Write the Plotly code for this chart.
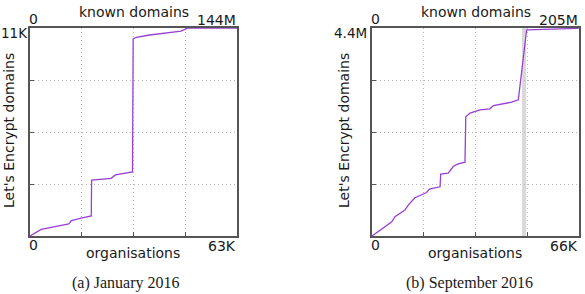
import plotly.graph_objects as go

# ---------------- data ----------------
# (a) January 2016: organisations (x) vs Let's Encrypt domains (y)
orgs_jan = [0, 3400, 11800, 12600, 15600, 18650, 18750, 24700, 26000, 30300,
            31200, 31400, 32400, 36400, 41000, 46000, 47900, 63000]
le_jan = [0, 350, 640, 810, 940, 1060, 2960, 3050, 3230, 3370,
          3390, 10420, 10510, 10630, 10720, 10830, 10990, 11000]

# (b) September 2016
orgs_sep = [0, 6300, 7300, 10500, 11600, 12700, 13700, 17400, 18300, 21700,
            21900, 24300, 25900, 27200, 29650, 29900, 31250, 34400, 37600,
            38700, 40800, 44500, 46650, 49300, 65300, 66000]
le_sep = [0, 0.30e6, 0.41e6, 0.55e6, 0.66e6, 0.73e6, 0.81e6, 0.92e6, 0.99e6,
          1.04e6, 1.31e6, 1.33e6, 1.47e6, 1.52e6, 1.56e6, 2.52e6, 2.60e6,
          2.67e6, 2.69e6, 2.76e6, 2.79e6, 2.83e6, 2.88e6, 4.36e6, 4.39e6, 4.40e6]

# highlighted band in (b), organisations range
band_sep = [47830, 49100]

# axis maxima and tick labels
x_max = [63000, 66000]
y_max = [11000, 4.4e6]
bottom_labels = [["0", "63K"], ["0", "66K"]]
top_labels = [["0", "144M"], ["0", "205M"]]
y_top_labels = ["11K", "4.4M"]
x_title = "organisations"
x2_title = "known domains"
y_title = "Let's Encrypt domains"
captions = ["(a) January 2016", "(b) September 2016"]

# ---------------- layout helpers ----------------
W, H = 585, 294
px_x = lambda p: p / W
px_y = lambda p: (H - p) / H

panels = [
    dict(x0=30, x1=237, ytitle_x=9, cap_x=126, ylab_x=28.5),
    dict(x0=372, x1=579, ytitle_x=344, cap_x=469, ylab_x=368),
]
PY0, PY1 = 28, 236  # top, bottom pixel

LINE = "#9a3fd6"
FRAME = "#555555"
GRID = "#b8b8b8"
TXT = "#1a1a1a"
FONT = dict(family="DejaVu Sans", size=14, color=TXT)
FONT_YL = dict(family="DejaVu Sans", size=13.5, color=TXT)

fig = go.Figure()
fig.add_trace(go.Scatter(x=orgs_jan, y=le_jan, mode="lines",
                         line=dict(color=LINE, width=1.3),
                         xaxis="x", yaxis="y", showlegend=False))
fig.add_trace(go.Scatter(x=orgs_sep, y=le_sep, mode="lines",
                         line=dict(color=LINE, width=1.3),
                         xaxis="x2", yaxis="y2", showlegend=False))

layout = dict(width=W, height=H, autosize=False,
              margin=dict(l=0, r=0, t=0, b=0),
              paper_bgcolor="white", plot_bgcolor="white",
              showlegend=False)

for i, p in enumerate(panels):
    xs = "" if i == 0 else str(i + 1)
    common = dict(
        showticklabels=False, ticks="inside", ticklen=4, tickcolor=FRAME,
        tickwidth=1.2,
        showgrid=True, gridcolor=GRID, griddash="1px,3px", gridwidth=1,
        showline=True, linecolor=FRAME, linewidth=1.6, mirror=True,
        zeroline=False, fixedrange=True)
    layout["xaxis" + xs] = dict(
        domain=[px_x(p["x0"]), px_x(p["x1"])],
        range=[0, x_max[i]], anchor="y" + xs,
        tickvals=[x_max[i] * k / 4 for k in (1, 2, 3)], **common)
    layout["yaxis" + xs] = dict(
        domain=[px_y(PY1), px_y(PY0)],
        range=[0, y_max[i]], anchor="x" + xs,
        tickvals=[y_max[i] * k / 4 for k in (1, 2, 3)], **common)

fig.update_layout(**layout)

# grey band in (b)
fig.add_shape(type="rect", xref="x2", yref="y2 domain",
              x0=band_sep[0], x1=band_sep[1], y0=0, y1=1,
              fillcolor="#d9d9d9", line=dict(width=0), layer="below")

def ann(text, x, y, xanchor="center", angle=0, font=FONT):
    fig.add_annotation(text=text, x=px_x(x), y=px_y(y), xref="paper",
                       yref="paper", xanchor=xanchor, yanchor="middle",
                       showarrow=False, textangle=angle, font=font,
                       borderpad=0)

cap_font = dict(family="Liberation Serif", size=16, color=TXT)
for i, p in enumerate(panels):
    mid = (p["x0"] + p["x1"]) / 2
    ann(top_labels[i][0], p["x0"] + 3.5, 19)
    ann(x2_title, mid, 12)
    ann(top_labels[i][1], p["x1"], 20, "right")
    ann(y_top_labels[i], p["ylab_x"], 33, "right", font=FONT_YL)
    ann(y_title, p["ytitle_x"], 131, angle=-90)
    ann(bottom_labels[i][0], p["x0"] + 3.5, 245)
    ann(bottom_labels[i][1], p["x1"] - 0.5, 246, "right")
    ann(x_title, mid - 1, 253)
    ann(captions[i], p["cap_x"], 283, font=cap_font)

fig.write_html("out.html")
